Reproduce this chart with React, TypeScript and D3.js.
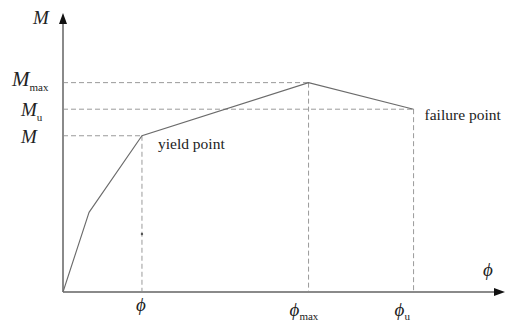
import React from "react";
import * as d3 from "d3";

// curve points (phi, M) in arbitrary units
const curvePhi = [0, 0.33, 1.0, 3.11, 4.44];
const curveM = [0, 0.51, 1.0, 1.34, 1.17];

const keyPoints = [
  { idx: 2, xLabel: "ϕ", xSub: "", yLabel: "M", ySub: "", name: "yield point" },
  { idx: 3, xLabel: "ϕ", xSub: "max", yLabel: "M", ySub: "max", name: "" },
  { idx: 4, xLabel: "ϕ", xSub: "u", yLabel: "M", ySub: "u", name: "failure point" },
];

const W = 506, H = 324;
const axisColor = "#8a8a8a";
const lineColor = "#6b6b6b";
const dashColor = "#9a9a9a";
const serif = '"Liberation Serif", "DejaVu Serif", "Noto Serif", "Times New Roman", Times, serif';

export default function App() {
  const x = d3.scaleLinear().domain([0, 5.56]).range([63, 502]);
  const y = d3.scaleLinear().domain([0, 1.76]).range([292, 17]);
  const pts = curvePhi.map((p, i) => [p, curveM[i]] as [number, number]);
  const line = d3.line<[number, number]>().x(d => x(d[0])).y(d => y(d[1]));
  const x0 = x(0), y0 = y(0);

  return (
    <svg width={W} height={H} style={{ position: "absolute", left: 0, top: 0, background: "#fff", fontFamily: serif }}>
      {/* dashed guides */}
      {keyPoints.map((k, i) => {
        const px = x(curvePhi[k.idx]), py = y(curveM[k.idx]);
        return (
          <g key={i} stroke={dashColor} strokeWidth={1} strokeDasharray="5,3">
            <line x1={x0} y1={py} x2={px} y2={py} />
            <line x1={px} y1={py} x2={px} y2={y0} />
          </g>
        );
      })}
      {/* axes */}
      <line x1={x0} y1={y0} x2={x0} y2={24} stroke={axisColor} strokeWidth={2} />
      <path d={`M${x0 - 4},${24} L${x0},${13} L${x0 + 4},${24} Z`} fill="#111" />
      <line x1={x0} y1={y0} x2={494} y2={y0} stroke={axisColor} strokeWidth={2} />
      <path d={`M${494},${y0 - 4} L${505},${y0} L${494},${y0 + 4} Z`} fill="#111" />
      {/* curve */}
      <path d={line(pts) || ""} fill="none" stroke={lineColor} strokeWidth={1.1} />
      {/* axis titles */}
      <text x={41} y={24} fontStyle="italic" fontSize={19} textAnchor="middle" fill="#222">M</text>
      <text x={488} y={276} fontStyle="italic" fontSize={19} textAnchor="middle" fill="#222">ϕ</text>
      {/* y labels */}
      {keyPoints.map((k, i) => {
        const py = y(curveM[k.idx]);
        const big = k.ySub === "max";
        return (
          <text key={"yl" + i} x={big ? 12 : 21} y={big ? py + 3 : py + 7} fontSize={big ? 21 : 19} fill="#222">
            <tspan fontStyle="italic">{k.yLabel}</tspan>
            {k.ySub && <tspan fontSize={11} dy={5}>{k.ySub}</tspan>}
          </text>
        );
      })}
      {/* x labels */}
      {keyPoints.map((k, i) => {
        const px = x(curvePhi[k.idx]);
        const base = k.xSub ? 316 : 311;
        return (
          <text key={"xl" + i} x={k.xSub ? px - 19 : px - 6} y={base} fontSize={19} fill="#222">
            <tspan fontStyle="italic">{k.xLabel}</tspan>
            {k.xSub && <tspan fontSize={11} dy={4}>{k.xSub}</tspan>}
          </text>
        );
      })}
      {/* point names */}
      {keyPoints.filter(k => k.name).map((k, i) => {
        const px = x(curvePhi[k.idx]), py = y(curveM[k.idx]);
        const dx = k.idx === 2 ? 16 : 11, dy = k.idx === 2 ? 13 : 11;
        return (
          <text key={"n" + i} x={px + dx} y={py + dy} fontSize={15.5} fill="#222">{k.name}</text>
        );
      })}
      {/* small scan mark on yield guide */}
      <circle cx={x(curvePhi[2])} cy={234} r={1.2} fill="#555" />
    </svg>
  );
}
